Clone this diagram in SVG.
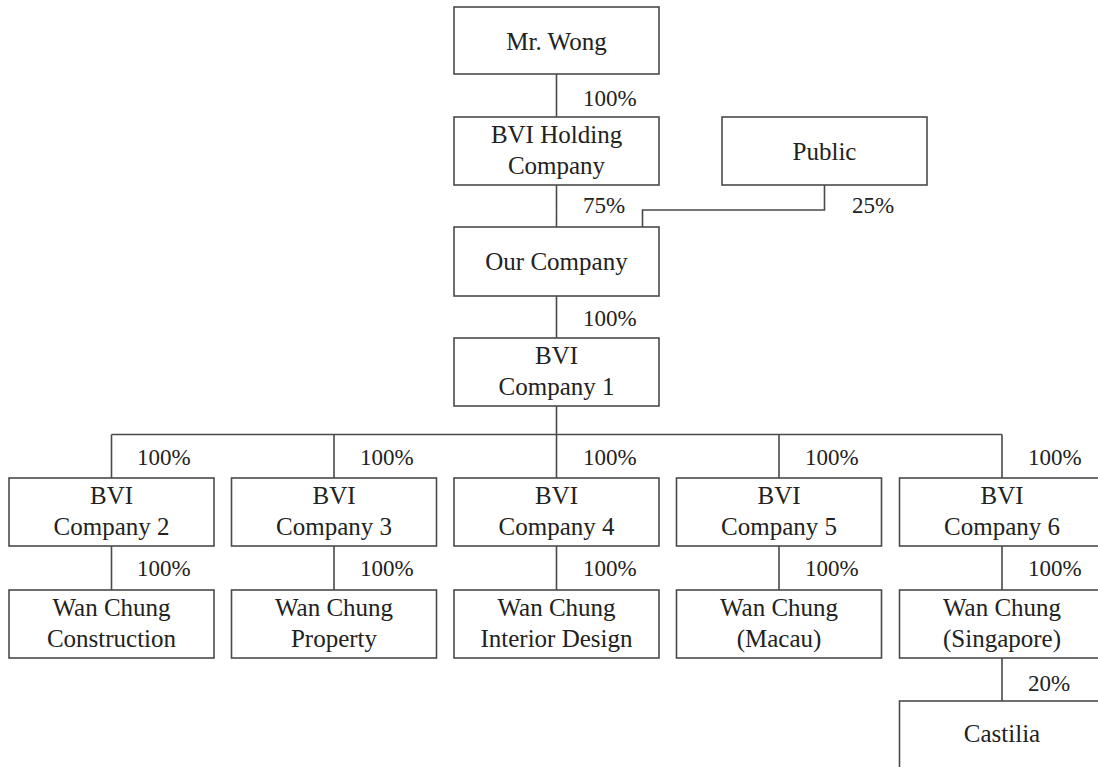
<svg xmlns="http://www.w3.org/2000/svg" width="1098" height="767" viewBox="0 0 1098 767">
<style>
.box{fill:#fff;stroke:#4a4a4a;stroke-width:1.6}
.ln{fill:none;stroke:#4a4a4a;stroke-width:1.6}
text{font-family:'Liberation Serif','DejaVu Serif',serif;fill:#222}
.t{font-size:25px;text-anchor:middle}
.p{font-size:23px}
</style>
<rect width="1098" height="767" fill="#fff"/>
<g id="connectors" font-family="Liberation Serif, serif">
<path class="ln" d="M556.5 74V117M556.5 185V227M824.5 185V210H642.5V227M556.5 296V338M556.5 406V434.5M111.5 434.5H1002M111.5 434.5V478M334 434.5V478M556.5 434.5V478M779 434.5V478M1002 434.5V478M111.5 546V590M334 546V590M556.5 546V590M779 546V590M1002 546V590M1002 658V701"/>
<text class="p" x="583" y="106">100%</text>
<text class="p" x="583" y="213">75%</text>
<text class="p" x="852" y="213">25%</text>
<text class="p" x="583" y="326">100%</text>
<text class="p" x="137" y="465">100%</text>
<text class="p" x="360" y="465">100%</text>
<text class="p" x="583" y="465">100%</text>
<text class="p" x="805" y="465">100%</text>
<text class="p" x="1028" y="465">100%</text>
<text class="p" x="137" y="576">100%</text>
<text class="p" x="360" y="576">100%</text>
<text class="p" x="583" y="576">100%</text>
<text class="p" x="805" y="576">100%</text>
<text class="p" x="1028" y="576">100%</text>
<text class="p" x="1028" y="691">20%</text>
</g>
<g id="mrwong"><rect class="box" x="454" y="7" width="205" height="67"/><text class="t" x="556.5" y="49.5">Mr. Wong</text></g>
<g id="bviholding"><rect class="box" x="454" y="117" width="205" height="68"/><text class="t" x="556.5" y="143">BVI Holding</text><text class="t" x="556.5" y="174">Company</text></g>
<g id="public"><rect class="box" x="722" y="117" width="205" height="68"/><text class="t" x="824.5" y="159.5">Public</text></g>
<g id="ourcompany"><rect class="box" x="454" y="227" width="205" height="69"/><text class="t" x="556.5" y="269.5">Our Company</text></g>
<g id="bvi1"><rect class="box" x="454" y="338" width="205" height="68"/><text class="t" x="556.5" y="364">BVI</text><text class="t" x="556.5" y="395">Company 1</text></g>
<g id="bvi2"><rect class="box" x="9" y="478" width="205" height="68"/><text class="t" x="111.5" y="504">BVI</text><text class="t" x="111.5" y="535">Company 2</text></g>
<g id="bvi3"><rect class="box" x="231.5" y="478" width="205" height="68"/><text class="t" x="334" y="504">BVI</text><text class="t" x="334" y="535">Company 3</text></g>
<g id="bvi4"><rect class="box" x="454" y="478" width="205" height="68"/><text class="t" x="556.5" y="504">BVI</text><text class="t" x="556.5" y="535">Company 4</text></g>
<g id="bvi5"><rect class="box" x="676.5" y="478" width="205" height="68"/><text class="t" x="779" y="504">BVI</text><text class="t" x="779" y="535">Company 5</text></g>
<g id="bvi6"><rect class="box" x="899.5" y="478" width="205" height="68"/><text class="t" x="1002" y="504">BVI</text><text class="t" x="1002" y="535">Company 6</text></g>
<g id="wc-construction"><rect class="box" x="9" y="590" width="205" height="68"/><text class="t" x="111.5" y="616">Wan Chung</text><text class="t" x="111.5" y="647">Construction</text></g>
<g id="wc-property"><rect class="box" x="231.5" y="590" width="205" height="68"/><text class="t" x="334" y="616">Wan Chung</text><text class="t" x="334" y="647">Property</text></g>
<g id="wc-interior"><rect class="box" x="454" y="590" width="205" height="68"/><text class="t" x="556.5" y="616">Wan Chung</text><text class="t" x="556.5" y="647">Interior Design</text></g>
<g id="wc-macau"><rect class="box" x="676.5" y="590" width="205" height="68"/><text class="t" x="779" y="616">Wan Chung</text><text class="t" x="779" y="647">(Macau)</text></g>
<g id="wc-singapore"><rect class="box" x="899.5" y="590" width="205" height="68"/><text class="t" x="1002" y="616">Wan Chung</text><text class="t" x="1002" y="647">(Singapore)</text></g>
<g id="castilia"><rect class="box" x="899.5" y="701" width="205" height="90"/><text class="t" x="1002" y="742">Castilia</text></g>
</svg>
